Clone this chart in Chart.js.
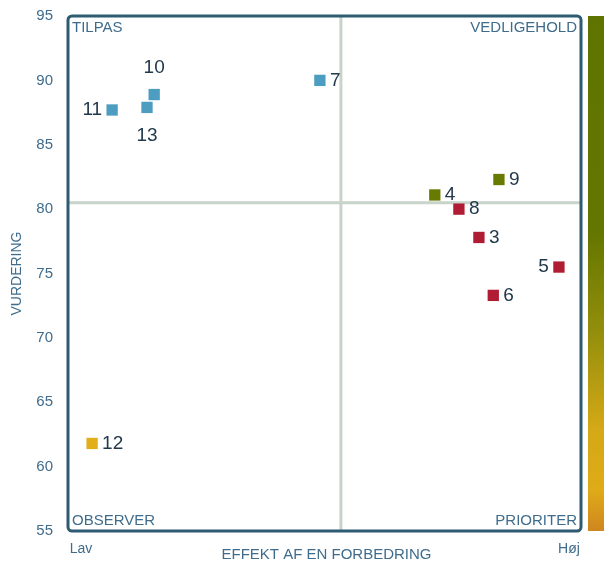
<!DOCTYPE html>
<html>
<head>
<meta charset="utf-8">
<script src="https://cdn.jsdelivr.net/npm/chart.js@4.4.1/dist/chart.umd.min.js"></script>
<style>
  html, body { margin: 0; padding: 0; background: #fff; }
  #wrap { width: 604px; height: 562px; }
</style>
</head>
<body>
<div id="wrap"><canvas id="matrix"></canvas></div>
<script>
// Data
const labels = ['11', '13', '10', '7', '4', '9', '8', '3', '5', '6', '12'];
const effekt = [8.6, 15.4, 16.8, 49.1, 71.5, 84.0, 76.2, 80.1, 95.7, 82.9, 4.7];
const vurdering = [87.7, 87.9, 88.9, 90.0, 81.1, 82.3, 80.0, 77.8, 75.5, 73.3, 61.8];
const groups = ['blue', 'blue', 'blue', 'blue', 'green', 'green', 'red', 'red', 'red', 'red', 'yellow'];
const labelSide = ['left', 'below', 'above', 'right', 'right', 'right', 'right', 'right', 'left', 'right', 'right'];
const yTicks = [55, 60, 65, 70, 75, 80, 85, 90, 95];
const midX = 53.2; // vertical divider
const midY = 80.5; // horizontal divider

const groupColors = { blue: '#4c9dbf', green: '#687a00', red: '#b01c33', yellow: '#e2ae1a' };
const FONT = 'Liberation Sans, Arial, sans-serif';

const points = effekt.map((x, i) => ({ x: x, y: vurdering[i] }));

// Plugin: border, dividers, quadrant names, point labels, colour bar
const quadrantPlugin = {
    id: 'quadrants',
    beforeDatasetsDraw(chart) {
        const ctx = chart.ctx;
        const a = chart.chartArea;
        const xs = chart.scales.x, ys = chart.scales.y;
        ctx.save();
        // dividers
        ctx.strokeStyle = '#c8d3c9';
        ctx.lineWidth = 3;
        ctx.beginPath();
        ctx.moveTo(xs.getPixelForValue(midX), a.top);
        ctx.lineTo(xs.getPixelForValue(midX), a.bottom);
        ctx.moveTo(a.left, ys.getPixelForValue(midY));
        ctx.lineTo(a.right, ys.getPixelForValue(midY));
        ctx.stroke();

        // quadrant names
        ctx.fillStyle = '#3f6c8c';
        ctx.font = '15px ' + FONT;
        ctx.textBaseline = 'top';
        ctx.textAlign = 'left';
        ctx.fillText('TILPAS', a.left + 4, a.top + 4);
        ctx.textAlign = 'right';
        ctx.fillText('VEDLIGEHOLD', a.right - 4, a.top + 4);
        ctx.textBaseline = 'bottom';
        ctx.textAlign = 'left';
        ctx.fillText('OBSERVER', a.left + 4, a.bottom - 3);
        ctx.textAlign = 'right';
        ctx.fillText('PRIORITER', a.right - 4, a.bottom - 3);

        // axis texts
        ctx.fillStyle = '#3f6c8c';
        ctx.font = '14px ' + FONT;
        ctx.textBaseline = 'middle';
        ctx.textAlign = 'center';
        ctx.fillText('Lav', a.left + 13, a.bottom + 18);
        ctx.fillText('Høj', a.right - 12, a.bottom + 18);
        ctx.font = '15px ' + FONT;
        ctx.fillText('EFFEKT AF EN FORBEDRING', (a.left + a.right) / 2 + 2, a.bottom + 24);

        // colour bar
        const grad = ctx.createLinearGradient(0, a.top, 0, a.bottom);
        grad.addColorStop(0, '#5f7400');
        grad.addColorStop(0.42, '#637600');
        grad.addColorStop(0.62, '#958f0c');
        grad.addColorStop(0.8, '#d4a816');
        grad.addColorStop(0.92, '#dfab18');
        grad.addColorStop(1, '#cf861f');
        ctx.fillStyle = grad;
        ctx.fillRect(a.right + 7, a.top, 604 - a.right - 7, a.bottom - a.top);
        ctx.restore();
    },
    afterDatasetsDraw(chart) {
        const ctx = chart.ctx;
        const a = chart.chartArea;
        ctx.save();
        // frame
        ctx.strokeStyle = '#2d5b72';
        ctx.lineWidth = 3;
        ctx.beginPath();
        ctx.roundRect(a.left, a.top, a.right - a.left, a.bottom - a.top, 4);
        ctx.stroke();

        // point labels
        const meta = chart.getDatasetMeta(0);
        ctx.fillStyle = '#22384b';
        ctx.font = '19px ' + FONT;
        meta.data.forEach((pt, i) => {
            const side = labelSide[i];
            let tx = pt.x, ty = pt.y;
            ctx.textBaseline = 'middle';
            if (side === 'right') { ctx.textAlign = 'left'; tx += 10; }
            if (side === 'left') { ctx.textAlign = 'right'; tx -= 10; }
            if (side === 'above') { ctx.textAlign = 'center'; ty -= 27; }
            if (side === 'below') { ctx.textAlign = 'center'; ty += 28; }
            ctx.fillText(labels[i], tx, ty);
        });
        ctx.restore();
    }
};

new Chart(document.getElementById('matrix'), {
    type: 'scatter',
    data: {
        datasets: [{
            data: points,
            pointStyle: 'rect',
            pointRadius: 8,
            pointHoverRadius: 8,
            borderWidth: 0,
            backgroundColor: groups.map(g => groupColors[g]),
            borderColor: groups.map(g => groupColors[g])
        }]
    },
    options: {
        responsive: true,
        maintainAspectRatio: false,
        animation: false,
        layout: { padding: { top: 7, right: 23, left: 0, bottom: 0 } },
        plugins: { legend: { display: false }, tooltip: { enabled: false } },
        scales: {
            x: {
                min: 0, max: 100,
                grid: { display: false },
                border: { display: false },
                ticks: { display: false },
                afterFit(scale) { scale.height = 31; }
            },
            y: {
                min: 55, max: 95,
                afterBuildTicks(scale) { scale.ticks = yTicks.map(v => ({ value: v })); },
                grid: { display: false },
                border: { display: false },
                ticks: { color: '#3f6c8c', font: { size: 15, family: FONT }, padding: 7 },
                title: { display: true, text: 'VURDERING', color: '#3f6c8c', font: { size: 14, family: FONT }, padding: { top: 9, bottom: 0 } },
                afterFit(scale) { scale.width = 68; }
            }
        }
    },
    plugins: [quadrantPlugin]
});
</script>
</body>
</html>
